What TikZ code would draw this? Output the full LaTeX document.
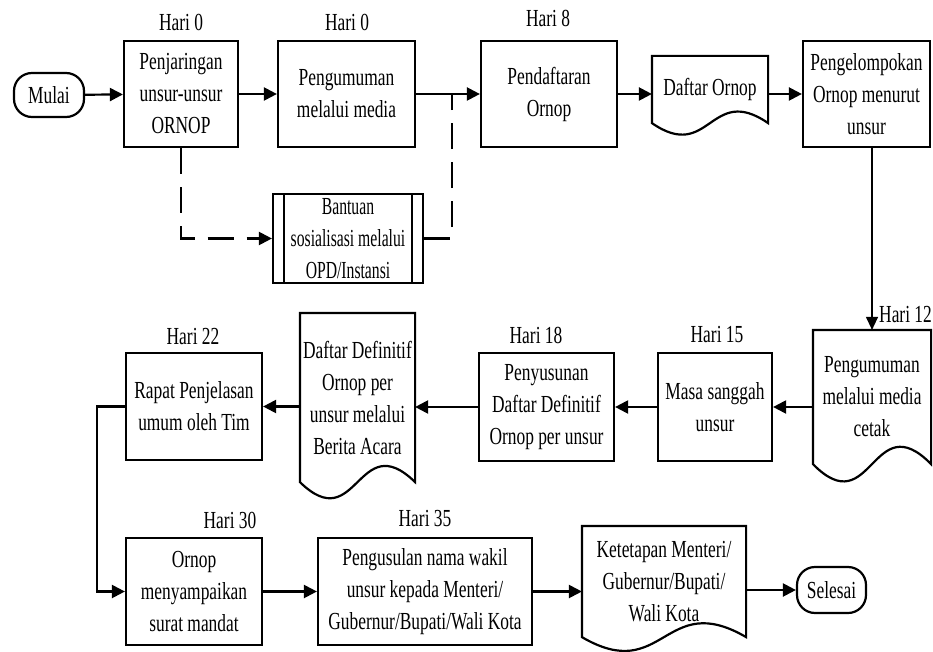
\documentclass[tikz,border=0pt]{standalone}
\usepackage{fontspec}
\setmainfont[FakeStretch=0.71]{Liberation Serif}
\newfontfamily\narrowserif[FakeStretch=0.64]{Liberation Serif}
\usetikzlibrary{arrows.meta,calc}
\newcommand\docwave[2]{%
  \draw[line width=2.2pt] (#1.south west) -- (#1.north west) -- (#1.north east) -- (#1.south east)
    .. controls ($(#1.south)+(0,-#2)$) and ($(#1.south)+(0,#2)$) .. (#1.south west) -- cycle;}
\begin{document}
\begin{tikzpicture}[x=1pt,y=-1pt,
  txt/.style={font=\fontsize{24.5}{32}\selectfont},
  base/.style={txt, align=center, inner sep=0pt, line width=2.2pt},
  proc/.style={base, draw, rectangle},
  term/.style={base, draw, rounded corners=18pt},
  docnode/.style={base},
  subproc/.style={proc, font=\narrowserif\fontsize{24.5}{32}\selectfont, path picture={
     \draw[line width=1.4pt] ([xshift=11pt]path picture bounding box.north west) -- ([xshift=11pt]path picture bounding box.south west);
     \draw[line width=1.4pt] ([xshift=-11pt]path picture bounding box.north east) -- ([xshift=-11pt]path picture bounding box.south east);}},
  arr/.style={line width=2.2pt, -{Triangle[length=13pt,width=13pt]}},
  thinarr/.style={line width=1.2pt, -{Triangle[length=13pt,width=12pt]}},
  dashln/.style={line width=2.2pt, dash pattern=on 26pt off 13pt},
  lbl/.style={txt, inner sep=0pt}]
\useasboundingbox (0,0) rectangle (933,652);

% row 1
\node[term, minimum width=70pt, minimum height=44pt] (mulai) at (49,95) {Mulai};
\node[proc, minimum width=114pt, minimum height=106pt] (b1) at (181,94) {Penjaringan\\unsur-unsur\\ORNOP};
\node[proc, minimum width=137pt, minimum height=106pt] (b2) at (346.5,94) {Pengumuman\\melalui media};
\node[proc, minimum width=136pt, minimum height=106pt] (b3) at (549,94) {Pendaftaran\\Ornop};
\node[docnode, minimum width=114pt, minimum height=65pt] (d1) at (710,89.5) {Daftar Ornop};
\docwave{d1}{40}
\node[proc, minimum width=127pt, minimum height=106pt] (b5) at (866.5,94) {Pengelompokan\\Ornop menurut\\unsur};
\node[subproc, minimum width=150pt, minimum height=89pt] (bant) at (348,238.5) {Bantuan\\sosialisasi melalui\\OPD/Instansi};

\node[lbl] (h1) at (181,22) {Hari 0};
\node[lbl] (h2) at (347,22) {Hari 0};
\node[lbl] (h3) at (548,18) {Hari 8};

% row 2
\node[docnode, minimum width=116pt, minimum height=132pt] (d2) at (872,397) {Pengumuman\\melalui media\\cetak};
\docwave{d2}{60}
\node[proc, minimum width=114pt, minimum height=108pt] (b6) at (715,407) {Masa sanggah\\unsur};
\node[proc, minimum width=135pt, minimum height=108pt] (b7) at (546.5,407) {Penyusunan\\Daftar Definitif\\Ornop per unsur};
\node[docnode, minimum width=113pt, minimum height=167pt] (d3) at (357.5,397.5) {Daftar Definitif\\Ornop per\\unsur melalui\\Berita Acara};
\docwave{d3}{56}
\node[proc, minimum width=136pt, minimum height=107pt] (b8) at (194,406.5) {Rapat Penjelasan\\umum oleh Tim};

\node[lbl, anchor=west] (h12) at (879,315) {Hari 12};
\node[lbl] (h15) at (717,335) {Hari 15};
\node[lbl] (h18) at (536,335) {Hari 18};
\node[lbl] (h22) at (193,337) {Hari 22};

% row 3
\node[proc, minimum width=136pt, minimum height=107pt] (b9) at (194,591.5) {Ornop\\menyampaikan\\surat mandat};
\node[proc, minimum width=214pt, minimum height=107pt] (b10) at (425,591.5) {Pengusulan nama wakil\\unsur kepada Menteri/\\Gubernur/Bupati/Wali Kota};
\node[docnode, minimum width=162pt, minimum height=109pt] (d4) at (664,581.5) {Ketetapan Menteri/\\Gubernur/Bupati/\\Wali Kota};
\docwave{d4}{48}
\node[term, minimum width=69pt, minimum height=46pt] (sel) at (831.5,590) {Selesai};

\node[lbl] (h30) at (230,520) {Hari 30};
\node[lbl] (h35) at (425,519) {Hari 35};

% connectors
\coordinate (j) at ($(b2.east)!0.56!(b3.west)$);
\draw[arr] (mulai) -- (b1);
\draw[arr] (b1) -- (b2);
\draw[arr] (b2) -- (b3);
\draw[arr] (b3.east) -- (d1.west |- b3.east);
\draw[arr] (d1.east |- b5.west) -- (b5.west);
\draw[dashln, -{Triangle[length=13pt,width=13pt]}] (b1.south) |- (bant.west);
\draw[dashln] (bant.east) -| (j);
\draw[thinarr] (d2.north |- b5.south) -- (d2.north);
\draw[arr] (d2.west |- b6.east) -- (b6.east);
\draw[arr] (b6) -- (b7);
\draw[arr] (b7.west) -- (d3.east |- b7.west);
\draw[arr] (d3.west |- b8.east) -- (b8.east);
\draw[arr] (b8.west) -- ++(-28,0) |- (b9.west);
\draw[arr] (b9) -- (b10);
\draw[arr] (b10.east) -- (d4.west |- b10.east);
\draw[arr] (d4.east |- sel.west) -- (sel.west);
\end{tikzpicture}
\end{document}
